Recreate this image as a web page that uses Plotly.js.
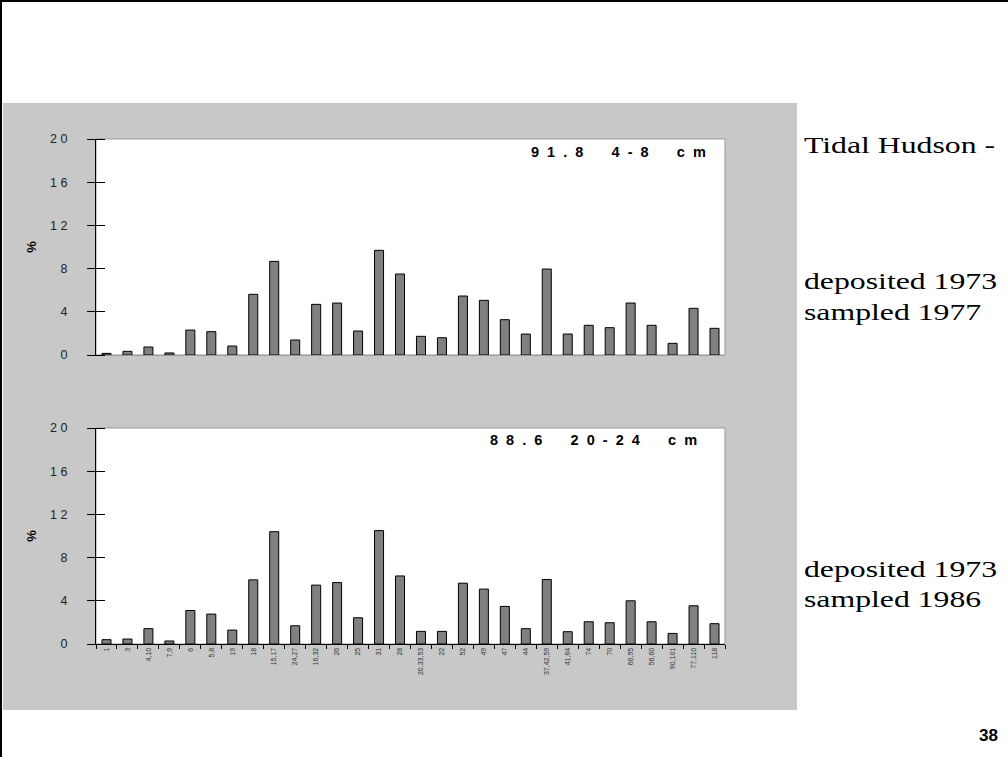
<!DOCTYPE html>
<html>
<head>
<meta charset="utf-8">
<script src="https://cdn.plot.ly/plotly-3.0.1.min.js"></script>
<style>html,body{margin:0;padding:0;background:#fff;}#chart{width:1008px;height:757px;}</style>
</head>
<body>
<div id="chart"></div>
<script>
// Category labels (sample IDs)
const categories = ["1","3","4,10","7,9","6","5,8","19","18","15,17","24,27","16,32","26","25","31","28",
  "20,33,53","22","52","49","47","44","37,42,59","41,64","74","70","66,95","56,60","90,101","77,110","118"];

// Top panel: 91.8  4-8 cm (deposited 1973, sampled 1977)
const values1977 = [0.15,0.34,0.74,0.19,2.31,2.16,0.83,5.62,8.67,1.39,4.69,4.81,2.22,9.69,7.5,
  1.73,1.6,5.46,5.06,3.27,1.94,7.96,1.94,2.75,2.53,4.81,2.75,1.08,4.32,2.47];

// Bottom panel: 88.6  20-24 cm (deposited 1973, sampled 1986)
const values1986 = [0.4,0.46,1.42,0.28,3.1,2.77,1.29,5.94,10.4,1.69,5.45,5.69,2.43,10.5,6.3,
  1.17,1.17,5.63,5.08,3.48,1.42,5.97,1.14,2.06,1.97,4.0,2.06,0.98,3.54,1.88];

const yTickVals = [0,4,8,12,16,20];
const yTickText = ["0","4","8","1 2","1 6","2 0"];

const barStyle = {color:"#808080", line:{color:"#000", width:1}};

const traces = [
  {type:"bar", x:categories, y:values1977, xaxis:"x", yaxis:"y", marker:barStyle, hoverinfo:"x+y"},
  {type:"bar", x:categories, y:values1986, xaxis:"x2", yaxis:"y2", marker:barStyle, hoverinfo:"x+y"},
  // invisible helpers so the crossing-tick overlay axes are drawn
  {type:"scatter", mode:"none", x:categories, y:values1977, xaxis:"x", yaxis:"y3", hoverinfo:"skip"},
  {type:"scatter", mode:"none", x:categories, y:values1986, xaxis:"x2", yaxis:"y4", hoverinfo:"skip"}
];

const xDom = [96/1008, 725/1008];
const yDomTop = [(757-355)/757, (757-139)/757];
const yDomBot = [(757-644)/757, (757-428)/757];
const tickFont = {family:"Liberation Sans, Arial, sans-serif", size:12.5, color:"#222"};

function yAxis(dom, anchor){
  return {domain:dom, anchor:anchor, range:[0,20], tickvals:yTickVals, ticktext:yTickText,
    ticks:"", showline:true, linecolor:"#000", linewidth:1,
    showgrid:false, zeroline:false, tickfont:tickFont, ticklabelstandoff:25, fixedrange:true,
    title:{text:"<b>%</b>", font:{family:"Liberation Sans, Arial, sans-serif", size:13, color:"#000"}, standoff:10}};
}
// tick-only axis shifted into the plot so its outside ticks cross the y axis line
function yCross(over){
  return {overlaying:over, anchor:"free", position:xDom[0], shift:9, range:[0,20], tickvals:yTickVals,
    ticks:"outside", ticklen:18, tickcolor:"#000", tickwidth:1, showticklabels:false, showline:false,
    showgrid:false, zeroline:false, fixedrange:true};
}

const annFont = {family:"Liberation Sans, Arial, sans-serif", size:14.5, color:"#000"};
const serif = {family:"Liberation Serif, Times New Roman, serif", size:23, color:"#000"};
function py(px){ return 1 - px/757; }
function pxx(px){ return px/1008; }
function spaced(groups){
  return groups.map(g => g.split("").join("&nbsp;&nbsp;")).join("&nbsp;&nbsp;&nbsp;&nbsp;&nbsp;&nbsp;&nbsp;");
}
// gray slide panel with two holes where the white plot areas show through
function panelPath(){
  const ox0 = pxx(3), ox1 = pxx(797), oy0 = py(710), oy1 = py(103);
  let p = `M${ox0},${oy0} L${ox1},${oy0} L${ox1},${oy1} L${ox0},${oy1} Z`;
  [yDomTop, yDomBot].forEach(d => {
    p += ` M${xDom[0]},${d[0]} L${xDom[0]},${d[1]} L${xDom[1]},${d[1]} L${xDom[1]},${d[0]} Z`;
  });
  return p;
}

const layout = {
  width:1008, height:757,
  margin:{l:0,r:0,t:0,b:0},
  paper_bgcolor:"#fff", plot_bgcolor:"#fff",
  showlegend:false, bargap:0.57,
  xaxis:{domain:xDom, anchor:"y", type:"category", showticklabels:false, ticks:"", showline:true,
    linecolor:"#999", linewidth:1, showgrid:false, zeroline:false, fixedrange:true},
  yaxis:yAxis(yDomTop, "x"),
  yaxis3:yCross("y"),
  xaxis2:{domain:xDom, anchor:"y2", type:"category", tickson:"boundaries", ticks:"outside", ticklen:4,
    tickcolor:"#000", showline:true, linecolor:"#000", linewidth:1, showgrid:false, zeroline:false,
    tickangle:-90, tickfont:{family:"Liberation Sans, Arial, sans-serif", size:7, color:"#333"}, fixedrange:true},
  yaxis2:yAxis(yDomBot, "x2"),
  yaxis4:yCross("y2"),
  shapes:[
    {type:"path", xref:"paper", yref:"paper", path:panelPath(), fillcolor:"#c8c8c8", line:{width:0}, layer:"below"},
    {type:"rect", xref:"x domain", yref:"y domain", x0:0, x1:1, y0:0, y1:1, line:{color:"#999", width:1}, layer:"below"},
    {type:"rect", xref:"x2 domain", yref:"y2 domain", x0:0, x1:1, y0:0, y1:1, line:{color:"#999", width:1}, layer:"below"},
    {type:"line", xref:"paper", yref:"paper", x0:pxx(1), x1:pxx(1), y0:0, y1:1, line:{color:"#000", width:2}},
    {type:"line", xref:"paper", yref:"paper", x0:0, x1:1, y0:py(1), y1:py(1), line:{color:"#000", width:2}}
  ],
  annotations:[
    {xref:"paper", yref:"paper", x:pxx(708), y:py(152), xanchor:"right", yanchor:"middle", showarrow:false,
      text:"<b>"+spaced(["91.8","4-8","cm"])+"</b>", font:annFont},
    {xref:"paper", yref:"paper", x:pxx(699), y:py(440), xanchor:"right", yanchor:"middle", showarrow:false,
      text:"<b>"+spaced(["88.6","20-24","cm"])+"</b>", font:annFont},
    {xref:"paper", yref:"paper", x:pxx(802), y:py(145), xanchor:"left", yanchor:"middle", showarrow:false,
      text:"Tidal Hudson -", font:serif},
    {xref:"paper", yref:"paper", x:pxx(802), y:py(282), xanchor:"left", yanchor:"middle", showarrow:false,
      text:"deposited 1973", font:serif},
    {xref:"paper", yref:"paper", x:pxx(802), y:py(312), xanchor:"left", yanchor:"middle", showarrow:false,
      text:"sampled 1977", font:serif},
    {xref:"paper", yref:"paper", x:pxx(802), y:py(569), xanchor:"left", yanchor:"middle", showarrow:false,
      text:"deposited 1973", font:serif},
    {xref:"paper", yref:"paper", x:pxx(802), y:py(599), xanchor:"left", yanchor:"middle", showarrow:false,
      text:"sampled 1986", font:serif},
    {xref:"paper", yref:"paper", x:pxx(1000), y:py(735), xanchor:"right", yanchor:"middle", showarrow:false,
      text:"<b>38</b>", font:{family:"Liberation Sans, Arial, sans-serif", size:17, color:"#000"}}
  ]
};

Plotly.newPlot("chart", traces, layout, {displayModeBar:false, staticPlot:true}).then(function(gd){
  // the reference slide text is horizontally stretched; widen the serif captions to match
  const stretch = 1.38;
  gd.querySelectorAll(".annotation-text").forEach(function(t){
    if ((t.getAttribute("style")||"").indexOf("Serif") >= 0) {
      const w = t.getComputedTextLength();
      t.setAttribute("textLength", (w*stretch).toFixed(1));
      t.setAttribute("lengthAdjust", "spacingAndGlyphs");
      t.setAttribute("text-anchor", "start");
      const x = parseFloat(t.getAttribute("x")||"0");
      t.setAttribute("x", (x - w/2).toString());
    }
  });
});
</script>
</body>
</html>
